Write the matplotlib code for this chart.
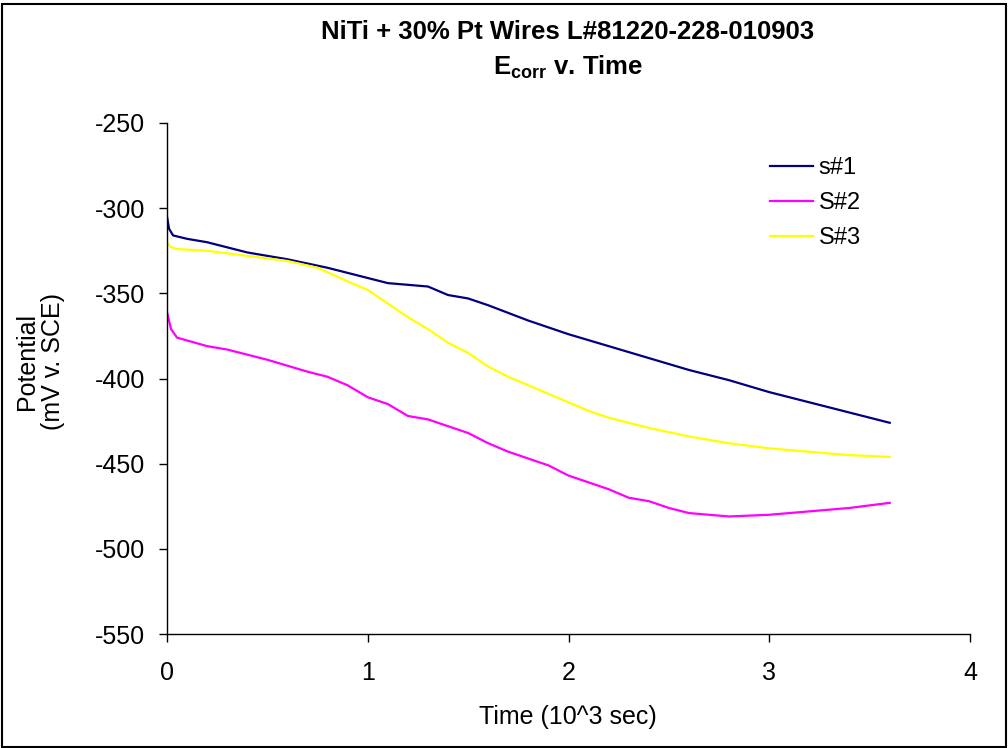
import matplotlib
matplotlib.use("Agg")
import matplotlib.pyplot as plt
from matplotlib.patches import Rectangle

plt.rcParams['font.family'] = ['Liberation Sans', 'DejaVu Sans']
plt.rcParams['axes.unicode_minus'] = False
plt.rcParams['mathtext.fontset'] = 'custom'
plt.rcParams['mathtext.rm'] = 'Liberation Sans'
plt.rcParams['mathtext.bf'] = 'Liberation Sans:bold'

# Data (time in 10^3 s, potential in mV v. SCE)
s1_t = [0.0, 0.01, 0.03, 0.1, 0.2, 0.4, 0.6, 0.8, 0.9, 1.0, 1.1, 1.3, 1.4, 1.5,
        1.6, 1.8, 2.0, 2.2, 2.4, 2.6, 2.8, 3.0, 3.2, 3.4, 3.6]
s1_v = [-305, -312, -316, -318, -320, -326, -330, -335, -338, -341, -344, -346, -351, -353,
        -357, -366, -374, -381, -388, -395, -401, -408, -414, -420, -426]

s2_t = [0.0, 0.02, 0.05, 0.2, 0.3, 0.5, 0.7, 0.8, 0.9, 1.0, 1.1, 1.2, 1.3, 1.4, 1.5,
        1.6, 1.7, 1.8, 1.9, 2.0, 2.1, 2.2, 2.3, 2.4, 2.5, 2.6, 2.7, 2.8, 3.0, 3.2, 3.4, 3.6]
s2_v = [-361, -371, -376, -381, -383, -389, -396, -399, -404, -411, -415, -422, -424, -428, -432,
        -438, -443, -447, -451, -457, -461, -465, -470, -472, -476, -479, -480, -481, -480, -478, -476, -473]

s3_t = [0.0, 0.02, 0.05, 0.2, 0.4, 0.6, 0.75, 0.9, 1.0, 1.1, 1.2, 1.3, 1.4, 1.5, 1.6,
        1.7, 1.8, 1.9, 2.0, 2.1, 2.2, 2.4, 2.6, 2.8, 3.0, 3.2, 3.4, 3.6]
s3_v = [-320, -323, -324, -325, -328, -331, -335, -343, -348, -356, -364, -371, -379, -385, -393,
        -399, -404, -409, -414, -419, -423, -429, -434, -438, -441, -443, -445, -446]

series_names = ['s#1', 'S#2', 'S#3']
series_colors = ['#000080', '#FF00FF', '#FFFF00']

x_ticks = [0, 1, 2, 3, 4]
y_ticks = [-550, -500, -450, -400, -350, -300, -250]

fig = plt.figure(figsize=(10.08, 7.48), dpi=100)
ax = fig.add_axes([167/1008, 1-634/748, (970-167)/1008, (634-123)/748])

for t, v, name, c in zip([s1_t, s2_t, s3_t], [s1_v, s2_v, s3_v], series_names, series_colors):
    ax.plot(t, v, color=c, lw=1.6, label=name)

ax.set_xlim(0, 4)
ax.set_ylim(-550, -250)
ax.set_xticks(x_ticks)
ax.set_yticks(y_ticks)
ax.tick_params(axis='both', direction='out', length=5.5, width=1, labelsize=18)
ax.tick_params(axis='y', pad=10)
ax.tick_params(axis='x', pad=14)
for sp in ['top', 'right']:
    ax.spines[sp].set_visible(False)
for sp in ['left', 'bottom']:
    ax.spines[sp].set_linewidth(1)

fig.text(568/1008, 1-717/748, 'Time (10^3 sec)', ha='center', va='center', fontsize=18)
fig.text(40/1008, 1-362/748, 'Potential\n(mV v. SCE)', rotation=90, ha='center', va='center',
         fontsize=18, linespacing=1.1)

fig.text(568/1008, 1-32/748, 'NiTi + 30% Pt Wires L#81220-228-010903', ha='center', va='center',
         fontsize=18.5, fontweight='bold')
fig.text(568/1008, 1-67/748, r'E$_{\mathbf{corr}}$ v. Time', ha='center', va='center',
         fontsize=18.5, fontweight='bold')

leg = ax.legend(loc='upper left', bbox_to_anchor=(770/1008, 1-157/748), bbox_transform=fig.transFigure,
                frameon=False, fontsize=17, handlelength=1.8, labelspacing=0.55, handletextpad=0.25,
                borderpad=0, borderaxespad=0)

fig.patches.append(Rectangle((0.002, 0.002), 0.996, 0.993, transform=fig.transFigure,
                             fill=False, edgecolor='black', lw=1.5))

fig.savefig('out.png', dpi=100)
